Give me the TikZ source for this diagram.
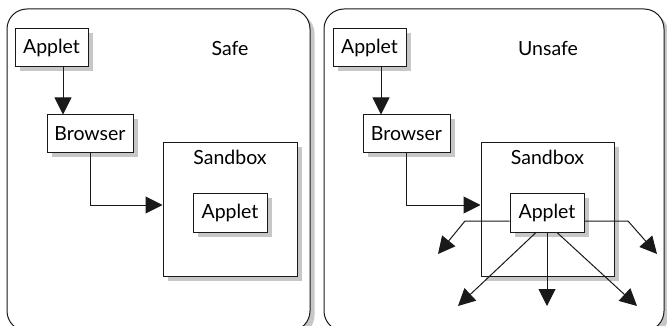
\documentclass[tikz,border=0pt]{standalone}
\usepackage{fontspec}
\setmainfont{Lato}
\usetikzlibrary{arrows.meta,shadows}
\begin{document}
\begin{tikzpicture}[x=1pt,y=-1pt,
  font=\fontsize{19.5}{22}\selectfont,
  shad/.style={general shadow={fill=black!22,shadow xshift=4.5pt,shadow yshift=-4.5pt}},
  panel/.style={draw=black!90,line width=1pt,fill=white,rounded corners=20pt,shad},
  box/.style={draw=black!90,line width=1pt,fill=white,inner sep=0pt,minimum height=38pt,shad},
  sbox/.style={draw=black!90,line width=1pt,fill=white,inner sep=0pt,minimum width=134pt,minimum height=133pt,shad},
  arr/.style={draw=black!90,line width=1pt,-{Triangle[length=17pt,width=17pt]}},
  lbl/.style={inner sep=0pt}
]
\useasboundingbox (0,0) rectangle (667,326);
\clip (0,0) rectangle (667,326);
% panels
\node[panel,minimum width=303pt,minimum height=322pt,inner sep=0pt] (p1) at (158.5,170) {};
\node[panel,minimum width=340pt,minimum height=322pt,inner sep=0pt] (p2) at (494,170) {};
% left panel
\node[box,minimum width=73pt] (a1) at (51.5,48) {Applet};
\node[lbl] (s1) at (230,48) {Safe};
\node[box,minimum width=86pt] (b1) at (90,134) {Browser};
\node[sbox] (sb1) at (230,209.5) {};
\node[lbl,anchor=base] (sl1) at (230,165) {Sandbox};
\node[box,minimum width=74pt] (ap1) at (230,213) {Applet};
\draw[arr] ([xshift=11.5pt]a1.south) -- ([xshift=11.5pt]a1.south |- b1.north);
\draw[arr] (b1.south) |- ([yshift=4.5pt]sb1.west);
% right panel
\node[box,minimum width=73pt] (a2) at (369.5,48) {Applet};
\node[lbl] (s2) at (548,48) {Unsafe};
\node[box,minimum width=87pt] (b2) at (406.5,134) {Browser};
\node[sbox,minimum width=133pt] (sb2) at (547.5,209.5) {};
\node[lbl,anchor=base] (sl2) at (547.5,165) {Sandbox};
\draw[arr] ([xshift=11.5pt]a2.south) -- ([xshift=11.5pt]a2.south |- b2.north);
\draw[arr] (b2.south) |- ([yshift=4.5pt]sb2.west);
\coordinate (lk) at (465,221);
\coordinate (lt) at (438,254);
\coordinate (rk) at (628,221);
\coordinate (rt) at (657,254);
\coordinate (t1) at (458,306);
\coordinate (t2) at (547,306);
\coordinate (t3) at (637,306);
\node[box,minimum width=74pt] (ap2) at (547,213) {Applet};
\draw[arr] ([yshift=-8pt]ap2.west) -- (lk) -- (lt);
\draw[arr] ([yshift=-8pt]ap2.east) -- (rk) -- (rt);
\draw[arr] ([xshift=-11pt]ap2.south) -- (t1);
\draw[arr] (ap2.south) -- (t2);
\draw[arr] ([xshift=10pt]ap2.south) -- (t3);
\end{tikzpicture}
\end{document}
